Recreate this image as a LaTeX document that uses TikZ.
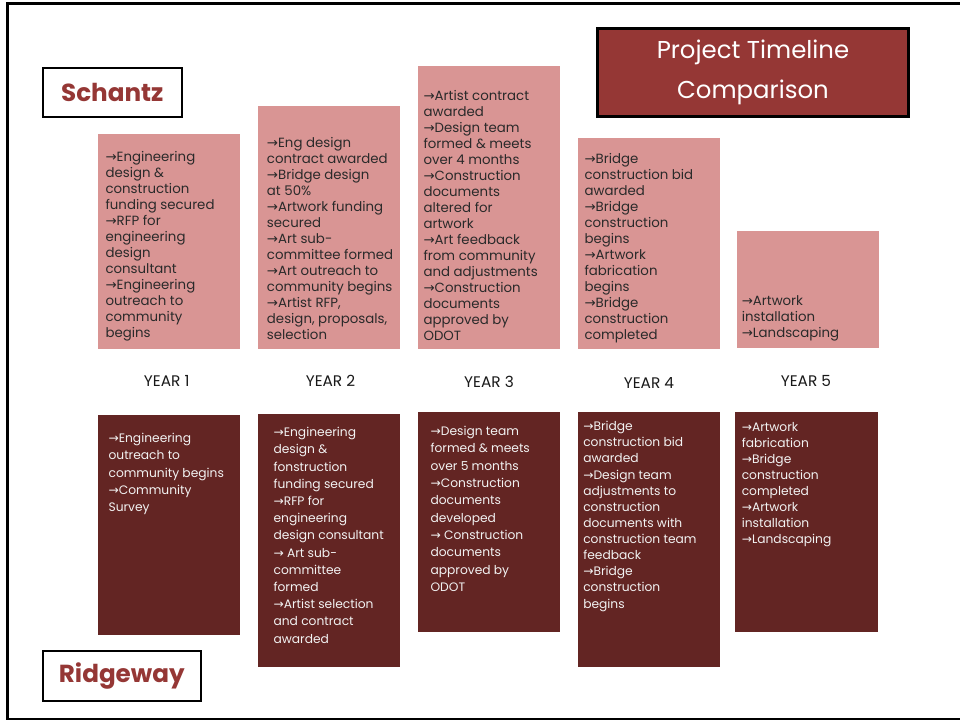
\documentclass[tikz,border=0pt]{standalone}
\usepackage{fontspec}
\setmainfont{Poppins}
\newfontfamily\arrfont{DejaVu Sans}
\newcommand\myarr{{\arrfont →}}
\definecolor{pinkc}{HTML}{D99594}
\definecolor{darkc}{HTML}{632523}
\definecolor{titlec}{HTML}{953735}
\definecolor{ptextc}{HTML}{2A2A2A}
\definecolor{dtextc}{HTML}{F2F2F2}
\tikzset{
  pbox/.style 2 args={anchor=north west, fill=pinkc, draw=none, inner sep=0, outer sep=0,
    minimum width=#1*0.75pt, minimum height=#2*0.75pt},
  dbox/.style 2 args={anchor=north west, fill=darkc, draw=none, inner sep=0, outer sep=0,
    minimum width=#1*0.75pt, minimum height=#2*0.75pt},
  ptext/.style={anchor=north west, inner sep=0, align=left, text=ptextc,
    font=\fontsize{10}{12}\selectfont},
  dtext/.style={anchor=north west, inner sep=0, align=left, text=dtextc,
    font=\fontsize{9.2}{#1}\selectfont},
  dtext/.default=12,
  yr/.style={inner sep=0, text=black!90, font=\fontsize{11.5}{12}\selectfont},
  lbox/.style 2 args={anchor=north west, draw=black, line width=1.9pt, fill=white,
    text=titlec, font=\fontsize{18.5}{22}\bfseries\selectfont,
    minimum width=#1*0.75pt, minimum height=#2*0.75pt, inner sep=0},
}
\begin{document}
\begin{tikzpicture}[x=0.75pt,y=-0.75pt]
\useasboundingbox (0,0) rectangle (960,721);
% frame
\draw[line width=1.9pt] (975,3.5) -- (7.5,3.5) -- (7.5,719) -- (975,719);

% title
\node[anchor=north west, draw=black, line width=2.2pt, fill=titlec, text=white,
  minimum width=311*0.75pt, minimum height=88*0.75pt, inner sep=0, align=center,
  font=\fontsize{18.3}{30}\selectfont] (title) at (596,27) {Project Timeline\\Comparison};

% labels
\node[lbox={139}{49}] (schantz) at (41.5,66.5) {Schantz};
\node[lbox={158}{50}] (ridgeway) at (41.5,649.5) {Ridgeway};

% Schantz boxes
\node[pbox={142}{214.5}] (s1) at (98,134) {};
\node[pbox={142}{242.5}] (s2) at (258,106) {};
\node[pbox={142}{282.5}] (s3) at (418,66) {};
\node[pbox={142}{210.5}] (s4) at (578,138) {};
\node[pbox={142}{116.5}] (s5) at (737,231) {};

\node[ptext] (s1t) at (105.3,151.5) {\myarr Engineering\\design \&\\construction\\funding secured\\\myarr RFP for\\engineering\\design\\consultant\\\myarr Engineering\\outreach to\\community\\begins};
\node[ptext] (s2t) at (266.7,137) {\myarr Eng design\\contract awarded\\\myarr Bridge design\\at 50\%\\\myarr Artwork funding\\secured\\\myarr Art sub-\\committee formed\\\myarr Art outreach to\\community begins\\\myarr Artist RFP,\\design, proposals,\\selection};
\node[ptext] (s3t) at (423.3,90) {\myarr Artist contract\\awarded\\\myarr Design team\\formed \& meets\\over 4 months\\\myarr Construction\\documents\\altered for\\artwork\\\myarr Art feedback\\from community\\and adjustments\\\myarr Construction\\documents\\approved by\\ODOT};
\node[ptext] (s4t) at (584.3,153) {\myarr Bridge\\construction bid\\awarded\\\myarr Bridge\\construction\\begins\\\myarr Artwork\\fabrication\\begins\\\myarr Bridge\\construction\\completed};
\node[ptext] (s5t) at (741.5,295) {\myarr Artwork\\installation\\\myarr Landscaping};

% years
\node[yr] (y1) at (166.7,381) {YEAR 1};
\node[yr] (y2) at (330.5,381) {YEAR 2};
\node[yr] (y3) at (489,382) {YEAR 3};
\node[yr] (y4) at (649,383) {YEAR 4};
\node[yr] (y5) at (806,380.5) {YEAR 5};

% Ridgeway boxes
\node[dbox={142}{220}] (r1) at (98,415) {};
\node[dbox={142}{252.5}] (r2) at (258,414) {};
\node[dbox={142}{220}] (r3) at (418,412) {};
\node[dbox={142}{254.5}] (r4) at (578,412) {};
\node[dbox={143}{220}] (r5) at (735,412) {};

\node[dtext=12.9] (r1t) at (108.3,433) {\myarr Engineering\\outreach to\\community begins\\\myarr Community\\Survey};
\node[dtext=12.9] (r2t) at (273.3,427) {\myarr Engineering\\design \&\\fonstruction\\funding secured\\\myarr RFP for\\engineering\\design consultant\\\myarr{} Art sub-\\committee\\formed\\\myarr Artist selection\\and contract\\awarded};
\node[dtext=13] (r3t) at (430.3,426) {\myarr Design team\\formed \& meets\\over 5 months\\\myarr Construction\\documents\\developed\\\myarr{} Construction\\documents\\approved by\\ODOT};
\node[dtext=12.1] (r4t) at (583,421) {\myarr Bridge\\construction bid\\awarded\\\myarr Design team\\adjustments to\\construction\\documents with\\construction team\\feedback\\\myarr Bridge\\construction\\begins};
\node[dtext=12] (r5t) at (741.5,422.5) {\myarr Artwork\\fabrication\\\myarr Bridge\\construction\\completed\\\myarr Artwork\\installation\\\myarr Landscaping};
\end{tikzpicture}
\end{document}
